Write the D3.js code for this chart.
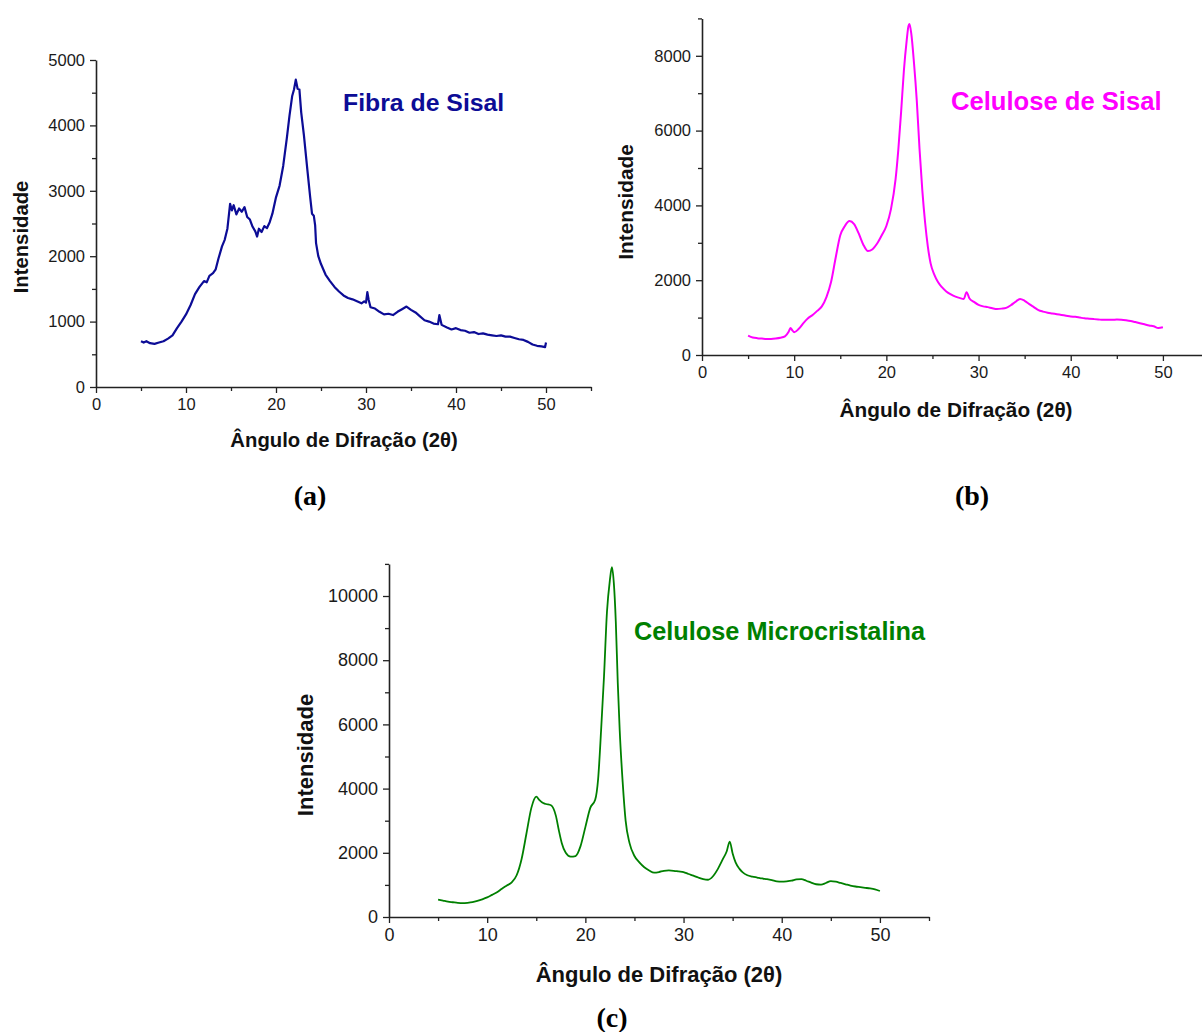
<!DOCTYPE html>
<html>
<head>
<meta charset="utf-8">
<script src="https://cdn.jsdelivr.net/npm/d3@7"></script>
<style>
  html, body { margin: 0; padding: 0; background: #fff; }
  svg { display: block; }
</style>
</head>
<body>
<svg id="chart" width="1202" height="1032"></svg>
<script>
// ---------------- DATA ----------------
const xTicks = [0, 10, 20, 30, 40, 50];
const yTicksA = [0, 1000, 2000, 3000, 4000, 5000];
const yTicksB = [0, 2000, 4000, 6000, 8000];
const yTicksC = [0, 2000, 4000, 6000, 8000, 10000];

const titleA = "Fibra de Sisal";
const titleB = "Celulose de Sisal";
const titleC = "Celulose Microcristalina";
const xLabel = "Ângulo de Difração (2θ)";
const yLabel = "Intensidade";
const panelLabels = ["(a)", "(b)", "(c)"];

// (a) Fibra de Sisal
const anguloA = [5.0,5.3,5.6,6.0,6.5,7.0,7.5,8.0,8.5,9.0,9.5,10.0,10.5,11.0,11.5,12.0,12.3,12.6,13.0,13.3,13.6,14.0,14.3,14.6,14.9,15.1,15.3,15.6,15.9,16.2,16.5,16.8,17.1,17.4,17.7,17.9,18.1,18.4,18.7,19.0,19.3,19.6,20.0,20.4,20.8,21.2,21.5,21.8,22.0,22.2,22.4,22.6,22.8,23.1,23.5,23.8,24.0,24.2,24.35,24.45,24.7,25.0,25.5,26.0,26.5,27.0,27.5,28.0,28.5,29.0,29.5,29.8,30.0,30.15,30.3,30.5,31.0,31.5,32.0,32.5,33.0,33.5,34.0,34.5,35.0,35.5,36.0,36.5,37.0,37.5,38.0,38.15,38.4,39.0,39.5,40.0,40.5,41.0,41.5,42.0,42.5,43.0,43.5,44.0,44.5,45.0,45.5,46.0,46.5,47.0,47.5,48.0,48.5,49.0,49.5,49.9,50.0];
const intensidadeA = [700,680,700,670,660,680,700,740,790,900,1000,1110,1250,1420,1530,1620,1600,1700,1740,1800,1960,2150,2250,2420,2800,2700,2780,2640,2730,2680,2750,2600,2560,2450,2380,2300,2420,2370,2460,2430,2520,2650,2900,3080,3380,3800,4150,4450,4550,4700,4560,4550,4200,3850,3300,2900,2650,2620,2470,2200,2000,1880,1720,1620,1530,1460,1400,1360,1340,1310,1280,1310,1290,1450,1330,1220,1200,1150,1110,1120,1100,1150,1190,1230,1180,1140,1080,1020,1000,970,960,1100,950,910,880,900,870,860,830,840,810,820,800,790,780,790,770,770,750,730,720,690,650,630,620,610,680];

// (b) Celulose de Sisal
const anguloB = [5.0,5.5,6.0,6.5,7.0,7.5,8.0,8.5,9.0,9.4,9.6,9.8,10.0,10.5,11.0,11.5,12.0,12.5,13.0,13.5,14.0,14.5,15.0,15.5,16.0,16.5,17.0,17.5,18.0,18.5,19.0,19.5,20.0,20.5,21.0,21.3,21.6,21.9,22.2,22.4,22.5,22.7,23.0,23.3,23.6,23.9,24.2,24.5,24.8,25.2,25.6,26.0,26.5,27.0,27.5,28.0,28.4,28.7,29.0,29.5,30.0,30.5,31.0,31.5,32.0,32.5,33.0,33.5,34.0,34.5,35.0,35.5,36.0,36.5,37.0,37.5,38.0,38.5,39.0,39.5,40.0,40.5,41.0,41.5,42.0,42.5,43.0,43.5,44.0,44.5,45.0,45.5,46.0,46.5,47.0,47.5,48.0,48.5,49.0,49.5,50.0];
const intensidadeB = [520,470,450,440,430,430,440,460,500,620,720,660,610,700,850,980,1070,1180,1300,1550,1950,2600,3200,3450,3580,3500,3250,2950,2780,2830,2980,3200,3450,3900,4700,5500,6500,7600,8400,8800,8850,8600,7800,6800,5500,4400,3550,2900,2450,2150,1950,1820,1700,1620,1560,1520,1500,1680,1520,1420,1340,1300,1280,1250,1230,1240,1260,1330,1420,1500,1450,1360,1280,1200,1160,1130,1110,1090,1070,1050,1030,1020,1000,980,970,960,950,940,940,940,950,945,930,910,880,850,820,790,770,720,740];

// (c) Celulose Microcristalina
const anguloC = [5.0,5.5,6.0,6.5,7.0,7.5,8.0,8.5,9.0,9.5,10.0,10.5,11.0,11.5,12.0,12.5,13.0,13.5,14.0,14.5,15.0,15.3,15.7,16.0,16.5,17.0,17.3,17.6,18.0,18.5,19.0,19.5,20.0,20.5,21.0,21.3,21.6,21.9,22.2,22.5,22.7,22.9,23.1,23.3,23.5,23.8,24.1,24.5,25.0,25.5,26.0,26.5,27.0,27.5,28.0,28.5,29.0,29.5,30.0,30.5,31.0,31.5,32.0,32.5,33.0,33.5,34.0,34.4,34.7,35.0,35.3,35.7,36.0,36.5,37.0,37.5,38.0,38.5,39.0,39.5,40.0,40.5,41.0,41.5,42.0,42.5,43.0,43.5,44.0,44.5,45.0,45.5,46.0,46.5,47.0,47.5,48.0,48.5,49.0,49.5,50.0];
const intensidadeC = [540,510,480,460,440,430,440,460,500,550,610,690,770,880,980,1080,1300,1800,2600,3400,3750,3650,3550,3520,3480,3150,2700,2300,2000,1880,1900,2200,2800,3400,3650,4300,5800,7500,9500,10500,10900,10400,9200,7300,5800,4200,3000,2300,1900,1700,1550,1450,1380,1400,1440,1450,1440,1420,1400,1340,1290,1230,1180,1160,1270,1500,1800,2050,2350,1980,1700,1500,1400,1300,1260,1230,1200,1180,1150,1110,1100,1110,1130,1170,1180,1130,1070,1020,1010,1060,1120,1100,1060,1020,980,950,930,910,890,860,810];

// ---------------- DRAW ----------------
const svg = d3.select("#chart");

const panels = [
  { ang: anguloA, inten: intensidadeA, yTicks: yTicksA, yMax: 5000, yMinor: 500,
    x0: 96, x1: 591, y0: 387, y1: 60, color: "#0c0c96", sw: 2.2, curve: d3.curveLinear,
    title: titleA, tx: 343, ty: 111, tsize: 24.8,
    tickSize: 16.5, axSize: 20.3, ylx: 28, yly: 237, xlx: 344, xly: 447,
    lab: panelLabels[0], lx: 310, ly: 505 },
  { ang: anguloB, inten: intensidadeB, yTicks: yTicksB, yMax: 9000, yMinor: 1000,
    x0: 702, x1: 1209, y0: 355, y1: 18.4, color: "#ff00ff", sw: 2, curve: d3.curveMonotoneX,
    title: titleB, tx: 951, ty: 110, tsize: 25.6,
    tickSize: 16.5, axSize: 20.8, ylx: 633, yly: 202, xlx: 956, xly: 417,
    lab: panelLabels[1], lx: 972, ly: 505 },
  { ang: anguloC, inten: intensidadeC, yTicks: yTicksC, yMax: 11000, yMinor: 1000,
    x0: 389, x1: 929, y0: 917, y1: 563.9, color: "#008000", sw: 1.8, curve: d3.curveMonotoneX,
    title: titleC, tx: 634, ty: 640, tsize: 25.3,
    tickSize: 18, axSize: 22, ylx: 313, yly: 755, xlx: 659, xly: 982,
    lab: panelLabels[2], lx: 612, ly: 1027 }
];

panels.forEach(p => {
  const x = d3.scaleLinear().domain([0, 55]).range([p.x0, p.x1]);
  const y = d3.scaleLinear().domain([0, p.yMax]).range([p.y0, p.y1]);
  const g = svg.append("g");

  // minor ticks
  const xMinor = d3.range(5, 56, 10);
  g.append("g")
    .attr("transform", `translate(0,${p.y0})`)
    .call(d3.axisBottom(x).tickValues(xMinor).tickSize(4).tickFormat(""))
    .call(s => s.select(".domain").remove())
    .call(s => s.selectAll("line").attr("stroke", "#222").attr("stroke-width", 1.3));
  const yMinorVals = d3.range(p.yMinor, p.yMax + 1, p.yMinor * 2);
  g.append("g")
    .attr("transform", `translate(${p.x0},0)`)
    .call(d3.axisLeft(y).tickValues(yMinorVals).tickSize(4).tickFormat(""))
    .call(s => s.select(".domain").remove())
    .call(s => s.selectAll("line").attr("stroke", "#222").attr("stroke-width", 1.3));

  // major axes
  const xa = g.append("g")
    .attr("transform", `translate(0,${p.y0})`)
    .call(d3.axisBottom(x).tickValues(xTicks).tickSize(6).tickSizeOuter(0).tickPadding(5).tickFormat(d3.format("d")));
  const ya = g.append("g")
    .attr("transform", `translate(${p.x0},0)`)
    .call(d3.axisLeft(y).tickValues(p.yTicks).tickSize(6).tickSizeOuter(0).tickPadding(5).tickFormat(d3.format("d")));
  [xa, ya].forEach(a => {
    a.select(".domain").attr("stroke", "#222").attr("stroke-width", 1.6);
    a.selectAll("line").attr("stroke", "#222").attr("stroke-width", 1.3);
    a.selectAll("text").attr("fill", "#1a1a1a")
      .style("font-family", "'Liberation Sans', Arial, sans-serif")
      .style("font-size", p.tickSize + "px");
  });

  // curve
  const pts = p.ang.map((a, i) => [a, p.inten[i]]);
  g.append("path")
    .datum(pts)
    .attr("fill", "none")
    .attr("stroke", p.color)
    .attr("stroke-width", p.sw)
    .attr("stroke-linejoin", "round")
    .attr("d", d3.line().x(d => x(d[0])).y(d => y(d[1])).curve(p.curve));

  // title
  g.append("text")
    .attr("x", p.tx).attr("y", p.ty)
    .attr("fill", p.color)
    .style("font-family", "'Liberation Sans', Arial, sans-serif")
    .style("font-weight", "bold")
    .style("font-size", p.tsize + "px")
    .text(p.title);

  // axis titles
  g.append("text")
    .attr("transform", `translate(${p.ylx},${p.yly}) rotate(-90)`)
    .attr("text-anchor", "middle")
    .attr("fill", "#111")
    .style("font-family", "'Liberation Sans', Arial, sans-serif")
    .style("font-weight", "bold")
    .style("font-size", p.axSize + "px")
    .text(yLabel);
  g.append("text")
    .attr("x", p.xlx).attr("y", p.xly)
    .attr("text-anchor", "middle")
    .attr("fill", "#111")
    .style("font-family", "'Liberation Sans', Arial, sans-serif")
    .style("font-weight", "bold")
    .style("font-size", p.axSize + "px")
    .text(xLabel);

  // panel label
  svg.append("text")
    .attr("x", p.lx).attr("y", p.ly)
    .attr("text-anchor", "middle")
    .attr("fill", "#000")
    .style("font-family", "'Liberation Serif', 'Times New Roman', serif")
    .style("font-weight", "bold")
    .style("font-size", "28px")
    .text(p.lab);
});
</script>
</body>
</html>
